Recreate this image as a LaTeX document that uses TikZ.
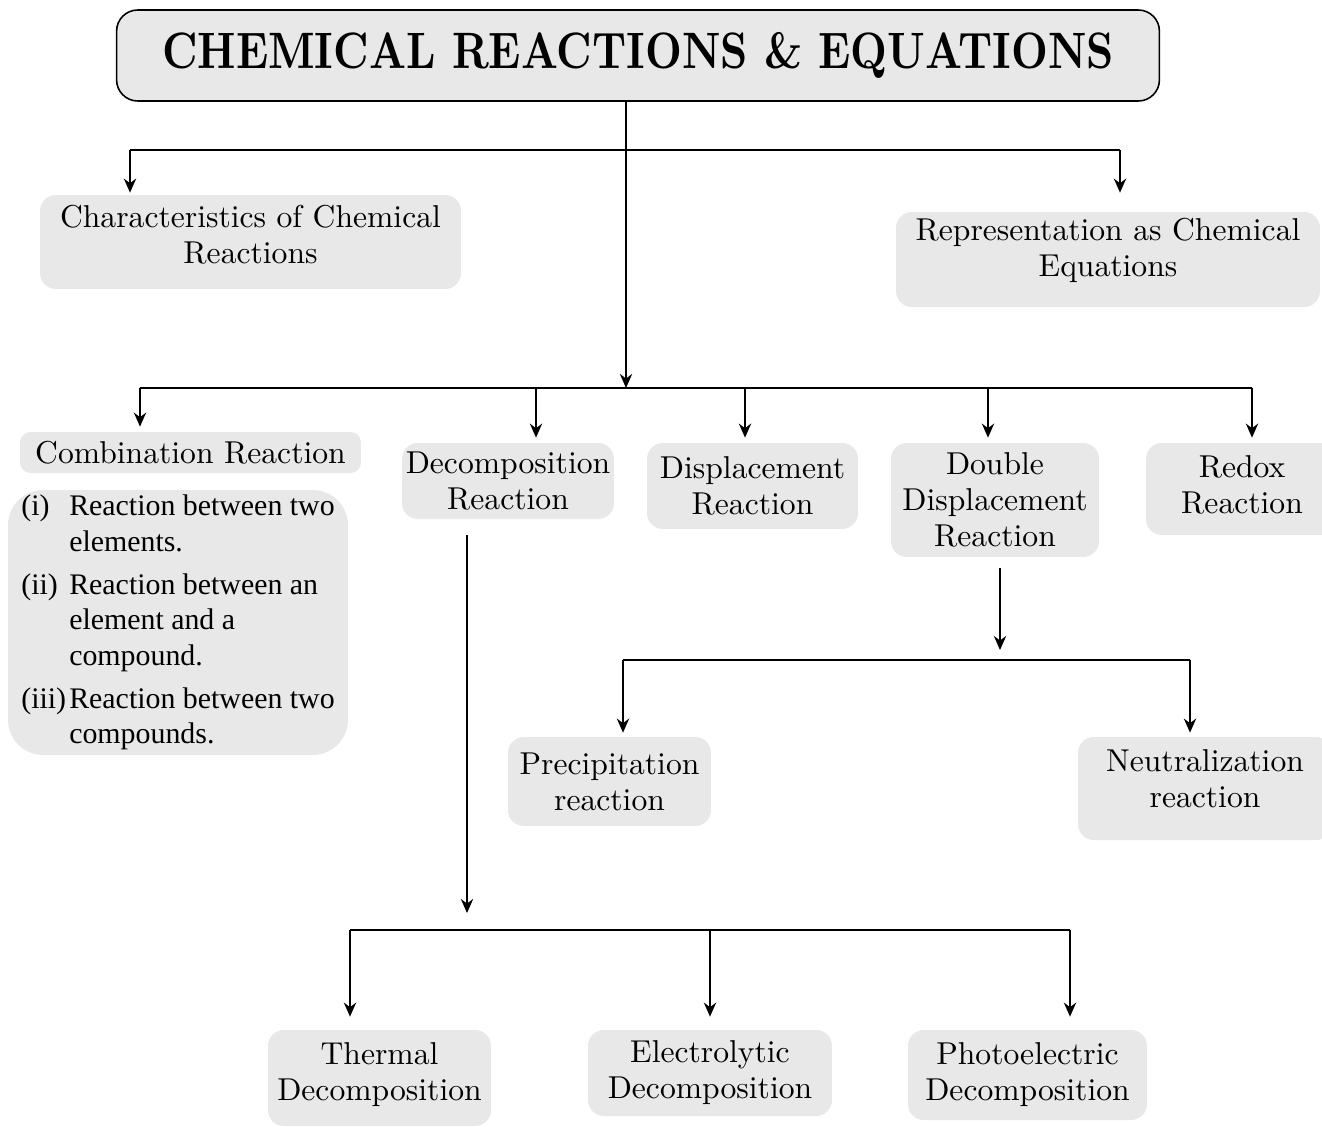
\documentclass[tikz,border=0pt]{standalone}
\usepackage{fontspec}
\setmainfont{lmroman10}[Extension=.otf,UprightFont=*-regular,BoldFont=*-bold]
\newfontfamily\listfont{Liberation Serif}
\usepackage{xcolor}
\usepackage{graphicx}
\usetikzlibrary{arrows.meta}
\definecolor{boxgray}{HTML}{E8E8E8}
% text block lifted inside its box
\newcommand{\liftup}[2]{\raisebox{0pt}[\height][\dimexpr\depth+#1\relax]{\begin{tabular}{@{}c@{}}#2\end{tabular}}}

\begin{document}
\begin{tikzpicture}[x=0.02cm,y=-0.02cm,
  box/.style={fill=boxgray,rounded corners=9pt,align=center,inner sep=0pt,
    font=\fontsize{18}{20.5}\selectfont},
  arr/.style={line width=1.1pt,-{Stealth[length=8pt,width=7pt]}},
  bus/.style={line width=1.1pt}]
\useasboundingbox (0,0) rectangle (1322,1126);

\node[box,draw=black,line width=0.9pt,rounded corners=12pt,minimum width=20.86cm,minimum height=1.82cm,
  font=\fontsize{24.3}{28}\selectfont\bfseries] (title) at (638,55.5) {\scalebox{1}[1.2]{CHEMICAL REACTIONS \& EQUATIONS}};

\node[box,minimum width=8.42cm,minimum height=1.88cm] (char) at (250.5,242) {\liftup{0.16cm}{Characteristics of Chemical\\Reactions}};
\node[box,minimum width=8.48cm,minimum height=1.90cm] (rep) at (1108,259.5) {\liftup{0.32cm}{Representation as Chemical\\Equations}};

\node[box,rounded corners=6pt,minimum width=6.82cm,minimum height=0.82cm] (comb) at (190.5,452.5) {Combination Reaction};
\node[box,rounded corners=20pt,minimum width=6.80cm,minimum height=5.30cm,align=left,
  font=\listfont\fontsize{17}{20.3}\selectfont] (list) at (178,622.5)
  {\makebox[0.96cm][l]{(i)}Reaction between two\\
   \hspace*{0.96cm}elements.\\[0.14cm]
   \makebox[0.96cm][l]{(ii)}Reaction between an\\
   \hspace*{0.96cm}element and a\\
   \hspace*{0.96cm}compound.\\[0.14cm]
   \makebox[0.96cm][l]{(iii)}Reaction between two\\
   \hspace*{0.96cm}compounds.};

\node[box,minimum width=4.24cm,minimum height=1.52cm] (dec) at (508,481) {Decomposition\\Reaction};
\node[box,minimum width=4.22cm,minimum height=1.72cm] (disp) at (752.5,486) {Displacement\\Reaction};
\node[box,minimum width=4.16cm,minimum height=2.28cm] (ddisp) at (995,500) {Double\\Displacement\\Reaction};
\node[box,minimum width=3.84cm,minimum height=1.84cm] (redox) at (1242,489) {\liftup{0.04cm}{Redox\\Reaction}};

\node[box,minimum width=4.06cm,minimum height=1.78cm] (prec) at (609.5,781.5) {Precipitation\\reaction};
\node[box,minimum width=5.08cm,minimum height=2.06cm] (neut) at (1205,788.5) {\liftup{0.24cm}{Neutralization\\reaction}};

\node[box,minimum width=4.46cm,minimum height=1.92cm] (therm) at (379.5,1078) {\liftup{0.1cm}{Thermal\\Decomposition}};
\node[box,minimum width=4.88cm,minimum height=1.72cm] (elec) at (710,1073) {Electrolytic\\Decomposition};
\node[box,minimum width=4.78cm,minimum height=1.80cm] (photo) at (1027.5,1075) {Photoelectric\\Decomposition};

% main trunk and buses
\coordinate (top) at (626,150);
\coordinate (mid) at (626,388);
\draw[arr] (title.south -| top) -- (mid);
\draw[bus] (130,150) -- (1120,150);
\draw[arr,shorten >=0.04cm] (130,150) -- (130,0 |- char.north);
\draw[arr,shorten >=0.38cm] (1120,150) -- (1120,0 |- rep.north);

\draw[bus] (140,388) -- (1252,388);
\foreach \x/\n in {140/comb,536/dec,745/disp,988/ddisp,1252/redox}
  \draw[arr,shorten >=0.1cm] (\x,388) -- (\x,0 |- \n.north);

% decomposition branch
\coordinate (dbus) at (467,930);
\draw[arr,shorten <=0.32cm,shorten >=0.34cm] (dec.south -| dbus) -- (dbus);
\draw[bus] (350,930) -- (1070,930);
\foreach \x/\n in {350/therm,710/elec,1070/photo}
  \draw[arr,shorten >=0.26cm] (\x,930) -- (\x,0 |- \n.north);

% double displacement branch
\coordinate (xbus) at (1000,660);
\draw[arr,shorten <=0.22cm,shorten >=0.2cm] (ddisp.south -| xbus) -- (xbus);
\draw[bus] (623,660) -- (1190,660);
\foreach \x/\n in {623/prec,1190/neut}
  \draw[arr,shorten >=0.08cm] (\x,660) -- (\x,0 |- \n.north);
\end{tikzpicture}
\end{document}
